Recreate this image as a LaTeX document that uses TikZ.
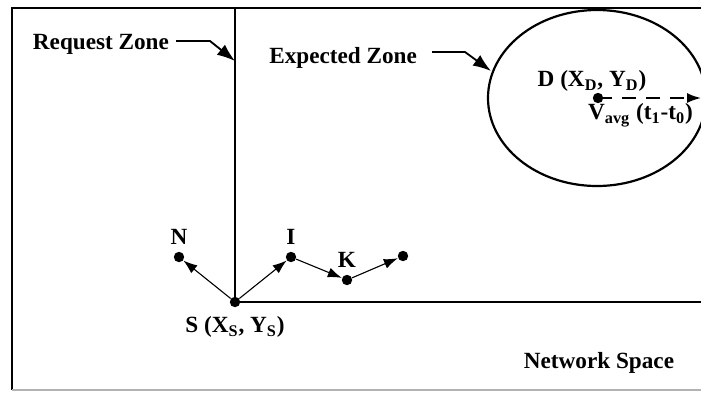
\documentclass[tikz,border=0pt]{standalone}
\usepackage{fontspec}
\setmainfont{Liberation Serif}
\usetikzlibrary{arrows.meta}

\begin{document}
\begin{tikzpicture}[x=0.5pt, y=-0.5pt, every node/.style={font=\fontsize{11.6}{13}\selectfont\bfseries},
    dot/.style={circle, fill=black, inner sep=0pt, minimum size=5.2pt},
    hop/.style={-{Latex[length=7pt,width=5pt]}, line width=0.55pt},
    pointer/.style={-{Latex[length=9pt,width=6.5pt]}, line width=0.9pt}]
    \useasboundingbox (0,0) rectangle (701,392);
    \clip (0,0) rectangle (701,392);

    % zones
    \draw[line width=1.3pt] (730,8) -- (12,8) -- (12,390);
    \draw[gray!60, line width=0.6pt] (12,390) -- (730,390);
    \draw[line width=1.1pt] (597,98) ellipse [x radius=109, y radius=88];

    % vertices
    \node[dot, label={[yshift=-1pt]below:S (X\textsubscript{S}, Y\textsubscript{S})}] (S) at (235,302) {};
    \node[dot, label=above:N] (N) at (179,257) {};
    \node[dot, label=above:I] (I) at (291,257) {};
    \node[dot, label=above:K] (K) at (347,280) {};
    \node[dot] (L) at (403,256) {};
    \node[dot] (D) at (598,98) {};
    \coordinate (top) at (235,8);
    \coordinate (right) at (730,302);
    \coordinate (vel) at (701,98);

    % texts
    \node[anchor=east] (rz) at (176,44) {Request Zone};
    \node[anchor=east] (ez) at (424,58) {Expected Zone};
    \node (dl) at (592,81) {D (X\textsubscript{D}, Y\textsubscript{D})};
    \node[anchor=east] (vl) at (700,115) {V\textsubscript{avg} (t\textsubscript{1}-t\textsubscript{0})};
    \node (ns) at (599,363) {Network Space};
    \coordinate (rztip) at (235,61);
    \coordinate (eztip) at (491,71);

    % edges
    \draw[line width=1.3pt] (top) -- (S.center) -- (right);
    \draw[hop] (S) -- (N);
    \draw[hop] (S) -- (I);
    \draw[hop] (I) -- (K);
    \draw[hop] (K) -- (L);
    \draw[-{Latex[length=7pt,width=5pt]}, line width=0.9pt, dash pattern=on 7pt off 5pt] (D.center) -- (vel);

    \draw[pointer] (rz.east |- 0,41) -- (210,41) -- (rztip);
    \draw[pointer] (432,52) -- (465,52) -- (eztip);
\end{tikzpicture}
\end{document}
